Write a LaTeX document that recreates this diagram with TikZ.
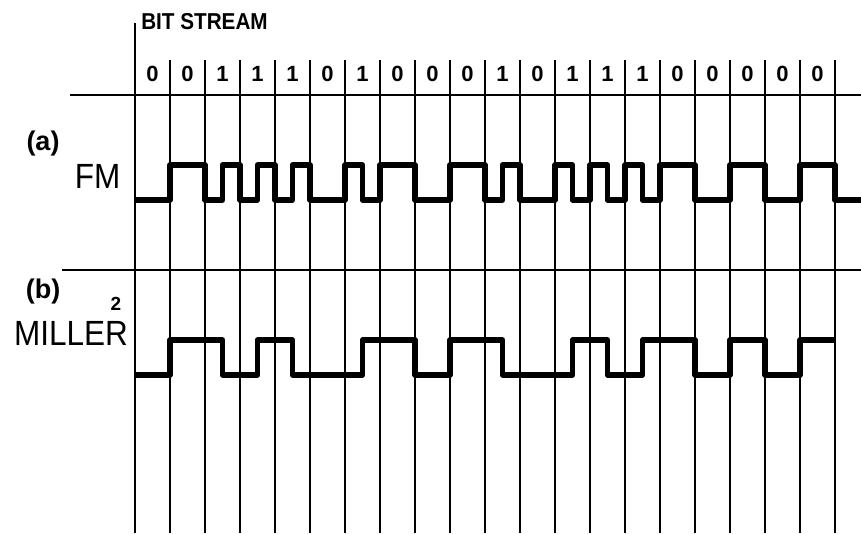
\documentclass[tikz,border=0pt]{standalone}
\usepackage{fontspec}
\setmainfont{Liberation Sans}
\newfontfamily\narrowfont[FakeStretch=0.9]{Liberation Sans}
\begin{document}
\begin{tikzpicture}[x=1pt,y=-1pt,
  grid/.style={line width=2pt},
  wave/.style={line width=5.5pt,line join=round},
  bitlbl/.style={font=\fontsize{22}{22}\selectfont\bfseries,inner sep=0pt},
  biglbl/.style={font=\narrowfont\fontsize{35}{35}\selectfont,inner sep=0pt},
  taglbl/.style={font=\fontsize{27}{27}\selectfont\bfseries,inner sep=0pt}]
\useasboundingbox (0,0) rectangle (861,533);
\draw[grid] (70,95) -- (861,95); % edit here for the rules
\draw[grid] (62,270) -- (861,270);
\draw[grid] (135,23) -- (135,533);
\foreach \x in {1,...,20} % edit here for the bit cells
\draw[grid] (135+35*\x,60) -- (135+35*\x,533);
\node[bitlbl,font=\narrowfont\fontsize{23}{23}\selectfont\bfseries] (title) at (204.5,22) {BIT STREAM};
\foreach \b [count=\i from 0] in {0,0,1,1,1,0,1,0,0,0,1,0,1,1,1,0,0,0,0,0} % edit here for the bits
\node[bitlbl] (bit\i) at (152.5+35*\i,74) {\b};
\node[taglbl] (taga) at (43,144) {(a)};
\node[biglbl] (fm) at (97.5,176) {FM};
\node[taglbl] (tagb) at (43,292) {(b)};
\node[font=\fontsize{19}{19}\selectfont\bfseries,inner sep=0pt] (sq) at (116,304) {2};
\node[biglbl] (miller) at (71,333) {MILLER};
% FM: high 165, low 200
\draw[wave] (135,200) \foreach \t/\v in {170/165,205/200,222.5/165,240/200,257.5/165,275/200,
  292.5/165,310/200,345/165,362.5/200,380/165,415/200,450/165,485/200,502.5/165,520/200,
  555/165,572.5/200,590/165,607.5/200,625/165,642.5/200,660/165,695/200,730/165,765/200,
  800/165,835/200} { -| (\t,\v) } -- (861,200);
% Miller^2: high 340, low 375
\draw[wave] (135,375) \foreach \t/\v in {170/340,222.5/375,257.5/340,292.5/375,362.5/340,
  415/375,450/340,502.5/375,572.5/340,607.5/375,642.5/340,695/375,730/340,765/375,
  800/340} { -| (\t,\v) } -- (835,340);
\end{tikzpicture}
\end{document}
